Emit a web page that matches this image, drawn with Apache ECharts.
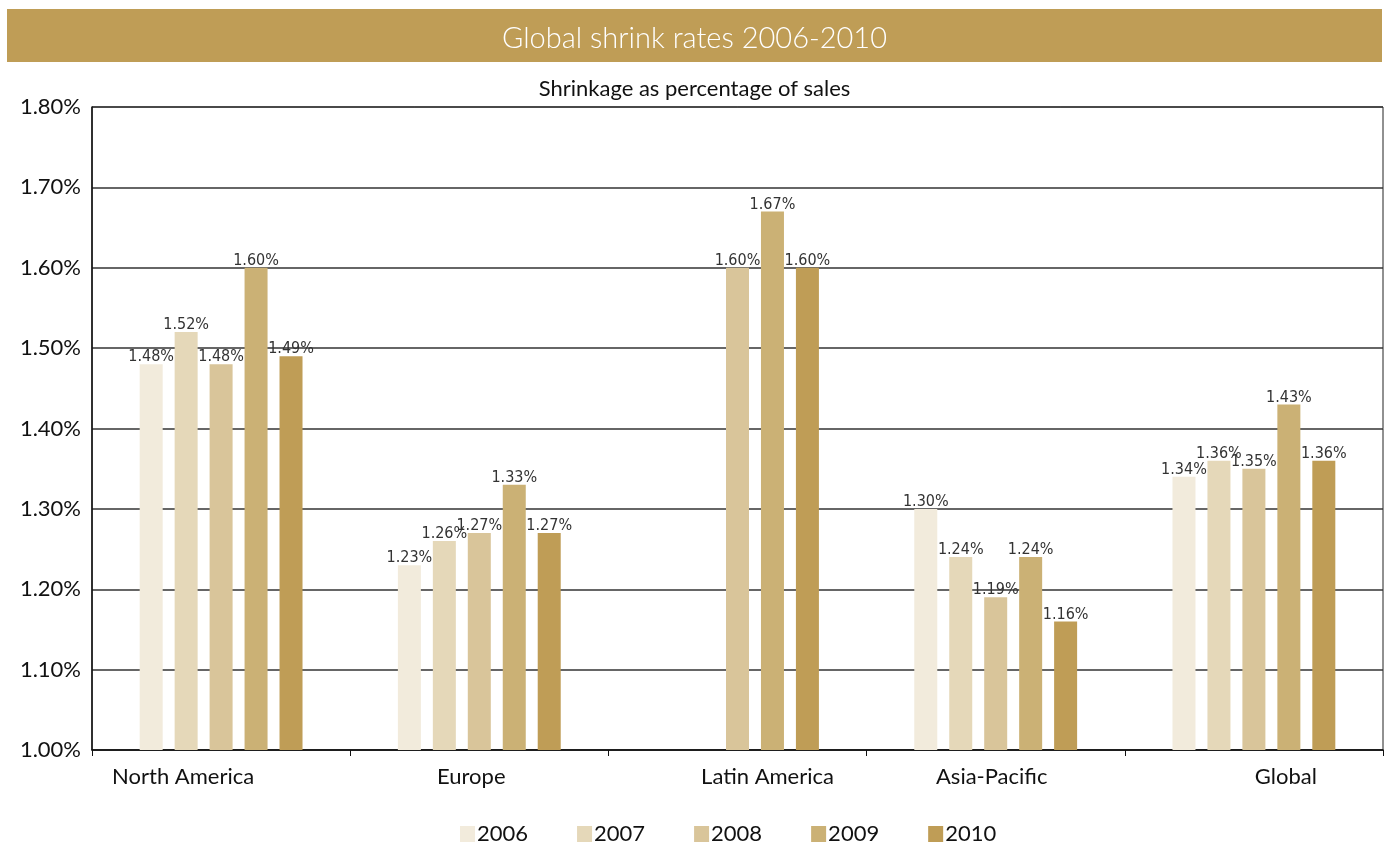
<!DOCTYPE html>
<html>
<head>
<meta charset="utf-8">
<script src="https://cdn.jsdelivr.net/npm/echarts@6/dist/echarts.min.js"></script>
<style>
html,body{margin:0;padding:0;background:#fff;}
#chart{width:1389px;height:844px;}
</style>
</head>
<body>
<div id="chart"></div>
<script>
const categories = ['North America', 'Europe', 'Latin America', 'Asia-Pacific', 'Global'];
const years = ['2006', '2007', '2008', '2009', '2010'];
const v2006 = [1.48, 1.23, null, 1.30, 1.34];
const v2007 = [1.52, 1.26, null, 1.24, 1.36];
const v2008 = [1.48, 1.27, 1.60, 1.19, 1.35];
const v2009 = [1.60, 1.33, 1.67, 1.24, 1.43];
const v2010 = [1.49, 1.27, 1.60, 1.16, 1.36];
const yTicks = [1.0, 1.1, 1.2, 1.3, 1.4, 1.5, 1.6, 1.7, 1.8];

const seriesValues = [v2006, v2007, v2008, v2009, v2010];
const colors = ['#F2EBDC', '#E5D8B9', '#D9C59A', '#CBB175', '#BF9D56'];
// horizontal label shifts (px) of category names relative to band centre
const labelShift = [-38, -8, 30, -4, 32];

const rich = {};
categories.forEach((c, i) => {
  const s = labelShift[i];
  rich['c' + i] = {
    fontFamily: 'Lato, "Noto Sans", sans-serif',
    fontSize: 22,
    color: '#111',
    padding: s < 0 ? [0, -2 * s, 0, 0] : [0, 0, 0, 2 * s]
  };
});

const chart = echarts.init(document.getElementById('chart'), null, {renderer: 'canvas'});
chart.setOption({
  animation: false,
  backgroundColor: '#fff',
  graphic: [
    {type: 'rect', shape: {x: 7, y: 9, width: 1375, height: 53}, style: {fill: '#BF9D56'}, z: -1}
  ],
  title: [
    {
      text: 'Global shrink rates 2006-2010',
      left: 'center', top: 19,
      textStyle: {color: '#fff', fontSize: 29, fontWeight: 300, fontFamily: 'Lato, "Noto Sans", sans-serif'}
    },
    {
      text: 'Shrinkage as percentage of sales',
      left: 'center', top: 73,
      textStyle: {color: '#111', fontSize: 22, fontWeight: 'normal', fontFamily: 'Lato, "Noto Sans", sans-serif'}
    }
  ],
  legend: {
    left: 455, top: 818,
    itemWidth: 15, itemHeight: 16, itemGap: 49,
    icon: 'rect',
    textStyle: {fontSize: 22, color: '#111', fontFamily: 'Lato, "Noto Sans", sans-serif', padding: [0, 0, 0, -3]},
    data: years
  },
  grid: {
    left: 92, right: 6, top: 107, bottom: 94,
    show: true, borderColor: '#222', borderWidth: 1, backgroundColor: 'transparent'
  },
  xAxis: {
    type: 'category',
    data: categories,
    axisLine: {lineStyle: {color: '#111', width: 1.5}},
    axisTick: {show: true, length: 6, lineStyle: {color: '#111'}},
    axisLabel: {
      margin: 16,
      formatter: (v, i) => '{c' + i + '|' + v + '}',
      rich: rich
    }
  },
  yAxis: {
    type: 'value',
    min: 1.0, max: 1.8, interval: 0.1,
    axisLine: {show: true, lineStyle: {color: '#111', width: 1.5}},
    axisTick: {show: false},
    splitLine: {lineStyle: {color: '#333', width: 1.5}},
    axisLabel: {
      margin: 11,
      fontSize: 22, color: '#111',
      fontFamily: 'Lato, "Noto Sans", sans-serif',
      formatter: v => v.toFixed(2) + '%'
    }
  },
  series: years.map((y, i) => ({
    name: y,
    type: 'bar',
    data: seriesValues[i],
    barWidth: 23,
    barGap: '52%',
    itemStyle: {color: colors[i]},
    label: {
      show: true,
      position: 'top',
      distance: -1,
      fontSize: 16,
      color: '#333',
      fontFamily: '"DejaVu Sans Condensed", "Liberation Sans Narrow", sans-serif',
      formatter: p => p.value == null ? '' : p.value.toFixed(2) + '%'
    }
  }))
});
</script>
</body>
</html>
